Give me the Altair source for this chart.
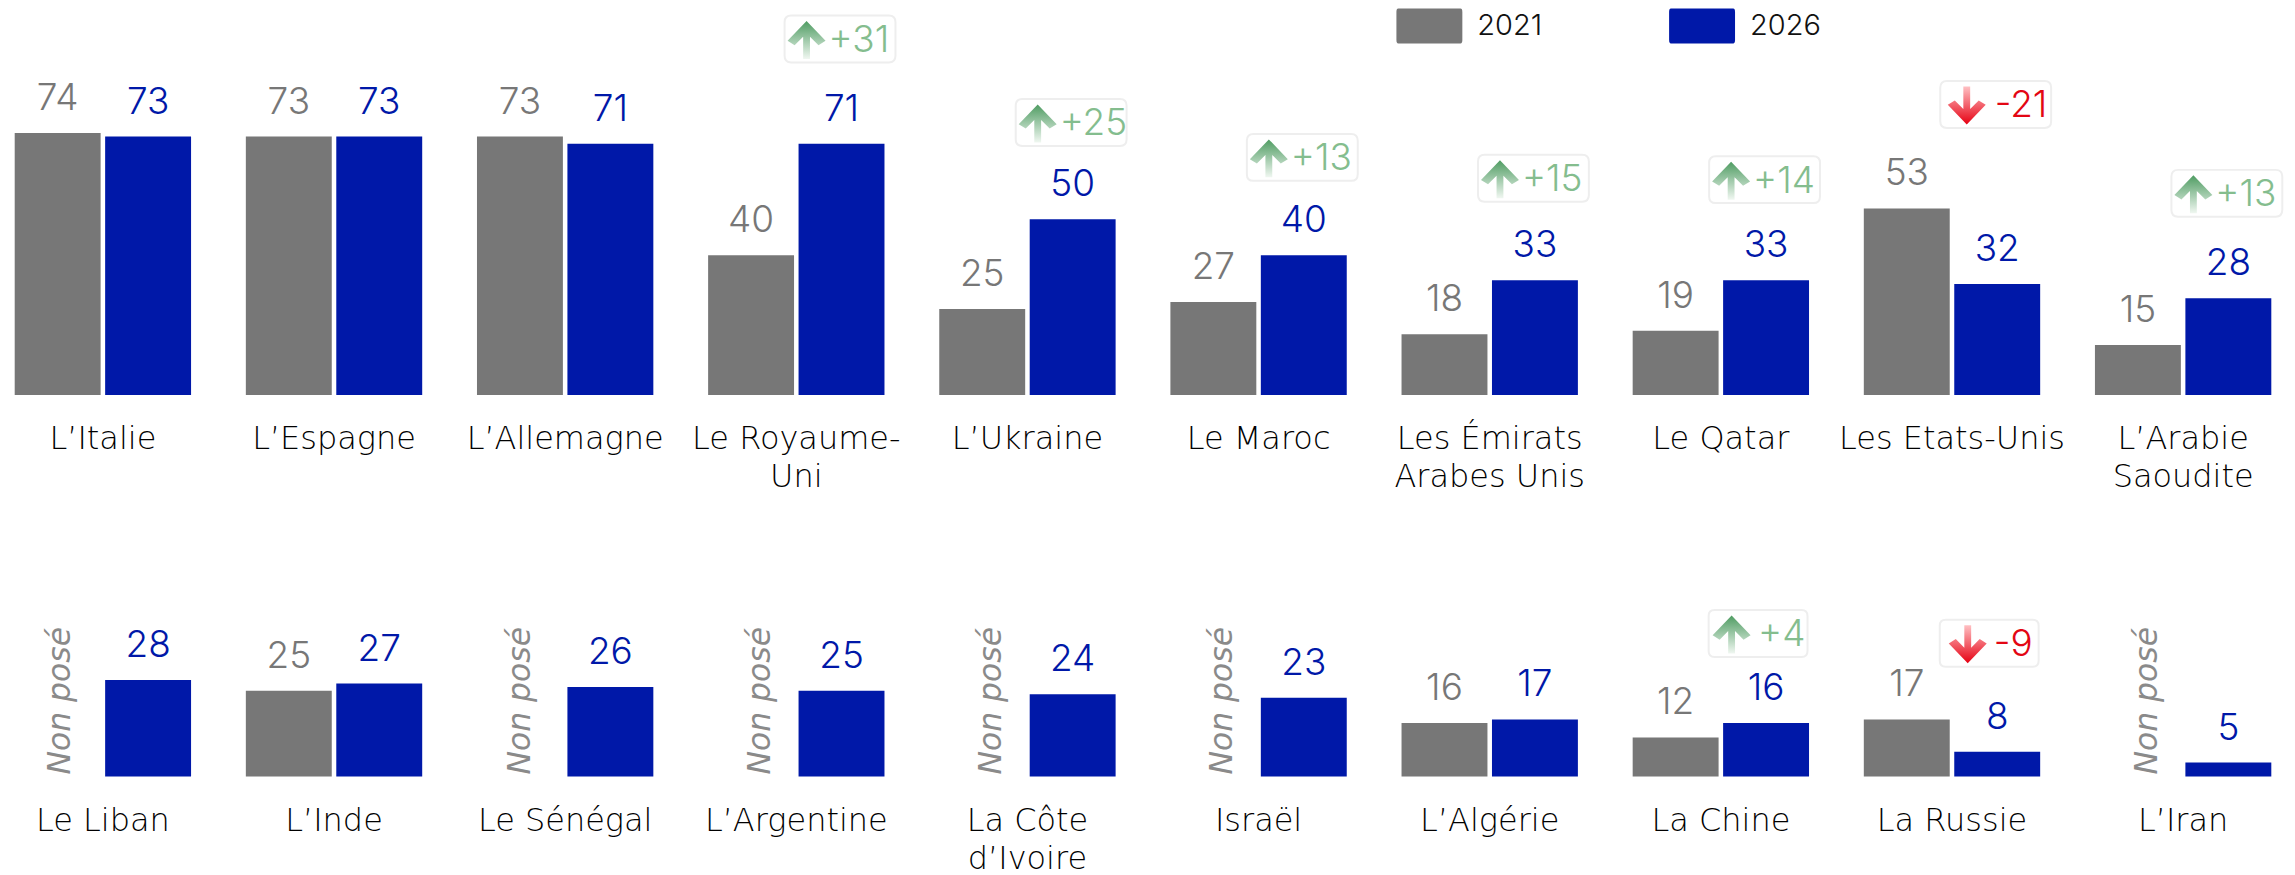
import altair as alt
import pandas as pd

FONT = "Inter"
LABEL_FONT = "DejaVu Sans"
WEIGHT = 300
LABEL_WEIGHT = 200
GRAY, BLUE = "#777777", "#0018A8"

groups_top = ["L’Italie", "L’Espagne", "L’Allemagne", "Le Royaume-|Uni", "L’Ukraine", "Le Maroc",
              "Les Émirats|Arabes Unis", "Le Qatar", "Les Etats-Unis", "L’Arabie|Saoudite"]
v2021_top = [74, 73, 73, 40, 25, 27, 18, 19, 53, 15]
v2026_top = [73, 73, 71, 71, 50, 40, 33, 33, 32, 28]
badges_top = ["Le Royaume-|Uni", "L’Ukraine", "Le Maroc", "Les Émirats|Arabes Unis", "Le Qatar",
              "Les Etats-Unis", "L’Arabie|Saoudite"]
badge_delta_top = [31, 25, 13, 15, 14, -21, 13]
badge_level_top = [100.1, 76.9, 67.2, 61.4, 61.0, 81.9, 57.2]

groups_bot = ["Le Liban", "L’Inde", "Le Sénégal", "L’Argentine", "La Côte|d’Ivoire", "Israël",
              "L’Algérie", "La Chine", "La Russie", "L’Iran"]
v2021_bot = [None, 25, None, None, None, None, 16, 12, 17, None]
v2026_bot = [28, 27, 26, 25, 24, 23, 17, 16, 8, 5]
badges_bot = ["La Chine", "La Russie"]
badge_delta_bot = [4, -9]
badge_level_bot = [40.9, 38.2]

Y_LOW = 1.1
PX = 3.6
P_INNER = 0.237
P_OUTER = 0.029
PANEL_W = 2272.6

UP_PTS = [(0, -1), (1, 0.04), (0.63, 0.27), (0.18, -0.18), (0.18, 1), (-0.18, 1), (-0.18, -0.18),
          (-0.63, 0.27), (-1, 0.04)]
DOWN_PTS = [(x, -y) for x, y in UP_PTS]


def arrow_path(pts, off_x, off_y):
    # 19 px is half the arrow's drawn size, so offsets in px become path units
    return "M" + " L".join(f"{x + off_x / 19:.3f},{y + off_y / 19:.3f}" for x, y in pts) + " Z"


def box_path(half_h, r, off=0.0):
    l, rr = -1 + off, 1 + off
    h = half_h
    return (f"M{l + r:.3f},{-h:.3f} H{rr - r:.3f} Q{rr:.3f},{-h:.3f} {rr:.3f},{-h + r:.3f} "
            f"V{h - r:.3f} Q{rr:.3f},{h:.3f} {rr - r:.3f},{h:.3f} H{l + r:.3f} "
            f"Q{l:.3f},{h:.3f} {l:.3f},{h - r:.3f} V{-h + r:.3f} Q{l:.3f},{-h:.3f} {l + r:.3f},{-h:.3f} Z")


SWATCH = ("M-1.78,-1 H1.78 Q1.886,-1 1.886,-0.8 V0.8 Q1.886,1 1.78,1 H-1.78 "
          "Q-1.886,1 -1.886,0.8 V-0.8 Q-1.886,-1 -1.78,-1 Z")

GREEN_GRAD = alt.LinearGradient(gradient="linear", x1=0, x2=0, y1=0, y2=1,
                                stops=[alt.GradientStop(color="#4f9c62", offset=0),
                                       alt.GradientStop(color="#f0f7f1", offset=1)])
RED_GRAD = alt.LinearGradient(gradient="linear", x1=0, x2=0, y1=0, y2=1,
                              stops=[alt.GradientStop(color="#ffc0c3", offset=0),
                                     alt.GradientStop(color="#e60012", offset=1)])

NONPOSE_SHIFT = {"Le Liban": 2, "Le Sénégal": 0, "L’Argentine": 9, "La Côte|d’Ivoire": 9, "Israël": 9, "L’Iran": 9}


def row(groups, v21, v26, b_groups, b_delta, b_level, height):
    long = pd.DataFrame(
        [{"group": g, "series": "2021", "value": a} for g, a in zip(groups, v21) if a is not None] +
        [{"group": g, "series": "2026", "value": b} for g, b in zip(groups, v26)])
    missing = pd.DataFrame([{"group": g, "series": "2021", "value": Y_LOW, "t": "Non posé"}
                            for g, a in zip(groups, v21) if a is None])
    badges = pd.DataFrame({"group": b_groups, "series": "2026", "value": b_level, "delta": b_delta})
    badges["t"] = badges["delta"].map(lambda d: f"{d:+d}")

    x = alt.X("group:N", sort=groups, title=None,
              scale=alt.Scale(paddingInner=P_INNER, paddingOuter=P_OUTER, round=False),
              axis=alt.Axis(domain=False, ticks=False, labelAngle=0, labelFontSize=32, labelFont=LABEL_FONT,
                            labelFontWeight=LABEL_WEIGHT, labelColor="#000000", labelPadding=54,
                            labelLineHeight=38, labelBaseline="alphabetic", labelOverlap=False,
                            labelExpr="split(datum.label,'|')", labelBound=False, labelFlush=False,
                            labelLimit=500, grid=False))
    xo = alt.XOffset("series:N", sort=["2021", "2026"],
                     scale=alt.Scale(paddingInner=0.05, paddingOuter=0, round=False))
    y = alt.Y("value:Q", title=None, axis=None, stack=None,
              scale=alt.Scale(domain=[Y_LOW, Y_LOW + height / PX], nice=False, zero=False, clamp=True))
    color = alt.Color("series:N", title=None,
                      scale=alt.Scale(domain=["2021", "2026"], range=[GRAY, BLUE]),
                      legend=alt.Legend(orient="none", legendX=1405.5, legendY=0, direction="horizontal",
                                        symbolType=SWATCH, symbolSize=1225, symbolOpacity=1,
                                        symbolStrokeWidth=0, labelFont=FONT, labelFontSize=29,
                                        labelFontWeight=WEIGHT, labelColor="#111111", labelOffset=30.5,
                                        columnPadding=126, padding=0))

    layers = [alt.Chart(long).mark_bar().encode(x=x, xOffset=xo, y=y, color=color)]
    for s, c in (("2021", GRAY), ("2026", BLUE)):
        layers.append(alt.Chart(long[long.series == s]).mark_text(
            font=FONT, fontWeight=WEIGHT, fontSize=37, color=c, baseline="alphabetic", dy=-23
        ).encode(x=x, xOffset=xo, y=y, text="value:Q"))
    if len(missing):
        for shift in sorted(set(NONPOSE_SHIFT.values())):
            sub = missing[missing.group.map(NONPOSE_SHIFT) == shift]
            layers.append(alt.Chart(sub).mark_text(
                font=LABEL_FONT, fontWeight=LABEL_WEIGHT, fontStyle="italic", fontSize=31.5, color="#8a8a8a",
                angle=270, align="left", baseline="middle", dx=2, dy=shift + 1
            ).encode(x=x, xOffset=xo, y=y, text="t:N"))

    sets = [
        (badges[badges.delta >= 10], 0.4234, 111, UP_PTS, GREEN_GRAD, "#84BD8E", -33.5, -11.5),
        (badges[badges.delta <= -10], 0.4234, 111, DOWN_PTS, RED_GRAD, "#E30613", -29, -1),
        (badges[(badges.delta > 0) & (badges.delta < 10)], 0.475, 99, UP_PTS, GREEN_GRAD, "#84BD8E", -26.5, 0),
        (badges[(badges.delta < 0) & (badges.delta > -10)], 0.475, 99, DOWN_PTS, RED_GRAD, "#E30613", -21.5, 4.5),
    ]
    for sub, half_h, w, pts, grad, tc, a_off, t_off in sets:
        if not len(sub):
            continue
        shift = -8 if w == 99 else -1.5
        layers.append(alt.Chart(sub).mark_point(
            shape=box_path(half_h, 0.12, shift / (w / 2)), size=w * w, filled=True, fill="white",
            stroke="#eeeeee", strokeWidth=2, opacity=1
        ).encode(x=x, xOffset=xo, y=y))
        layers.append(alt.Chart(sub).mark_point(
            shape=arrow_path(pts, shift + a_off, 1), size=38 * 38, filled=True, fill=grad,
            strokeWidth=0, opacity=1
        ).encode(x=x, xOffset=xo, y=y))
        layers.append(alt.Chart(sub).mark_text(
            font=FONT, fontWeight=WEIGHT, fontSize=37, color=tc, align="left",
            baseline="alphabetic", dx=shift + t_off, dy=13
        ).encode(x=x, xOffset=xo, y=y, text="t:N"))
    return alt.layer(*layers).properties(width=PANEL_W, height=height)


top = row(groups_top, v2021_top, v2026_top, badges_top, badge_delta_top, badge_level_top, 387)
bot = row(groups_bot, v2021_bot, v2026_bot, badges_bot, badge_delta_bot, badge_level_bot, 270)

chart = alt.vconcat(top, bot, spacing=14, padding=0, background="white").configure_view(stroke=None)
chart.save("out.html", embed_options={"renderer": "svg", "actions": False})
